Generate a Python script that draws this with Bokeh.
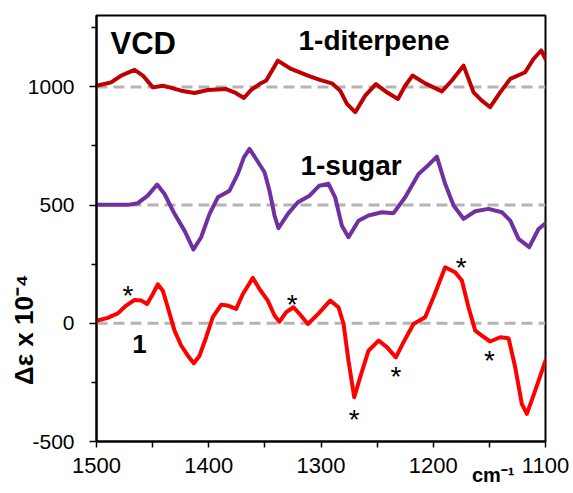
from bokeh.plotting import figure
from bokeh.models import Range1d, FixedTicker, Span, Label
from bokeh.embed import file_html
from bokeh.resources import INLINE
from bokeh.core.properties import value

# ---- data (wavenumber cm-1, plotted Δε x 10^-4 incl. stacking offset) ----
x_1 = [1500, 1490, 1481, 1473.6, 1466.1, 1460.2, 1454.9, 1449.8, 1445.4, 1440.9, 1436.5, 1430.5,
       1424.6, 1418.6, 1413.3, 1408.2, 1402.3, 1396.4, 1389, 1383, 1375.6, 1369.6, 1360.7, 1354.8,
       1347.4, 1341.4, 1337, 1331, 1324.5, 1319.2, 1311.7, 1302.5, 1291.8, 1284.4, 1279.9, 1275.5,
       1270.4, 1265.1, 1257.7, 1248.7, 1241.3, 1233.3, 1226.5, 1217.6, 1207.2, 1199.8, 1189.4,
       1180.5, 1174.5, 1168.6, 1162.6, 1156.7, 1149.3, 1140.4, 1132.9, 1127, 1121.1, 1116.6,
       1109.2, 1100]
y_1 = [11, 23, 42, 75, 99, 96, 82, 124, 165, 138, 68, -31,
       -94, -137, -169, -137, -59, 26, 78, 75, 61, 124, 192, 145,
       96, 33, 7, 47, 68, 40, -3, 40, 96, 68, -3, -158,
       -313, -228, -116, -73, -101, -144, -80, -3, 26, 110, 237,
       216, 181, 68, -31, -52, -77, -59, -63, -186, -341, -383,
       -285, -158]

x_sugar = [1500, 1472, 1463.2, 1454.3, 1446, 1439.4, 1430.5, 1421.6, 1413.6, 1406.8, 1399.3, 1391.9,
           1381.5, 1374.1, 1368.7, 1363.7, 1357.8, 1350.3, 1345.9, 1341.4, 1337.9, 1329.5, 1320.6,
           1310.2, 1301.5, 1293.3, 1287.4, 1281.4, 1275.5, 1266.6, 1257.7, 1245.8, 1235.4, 1225,
           1213.1, 1205.7, 1196.8, 1189.4, 1181.9, 1173, 1162.6, 1150.8, 1138.9, 1131.4, 1124,
           1114.5, 1106.2, 1100]
y_sugar = [501, 501, 508, 540, 587, 547, 463, 392, 312, 364, 463, 533,
           561, 632, 702, 738, 695, 639, 561, 456, 402, 463, 512,
           540, 582, 590, 533, 413, 364, 434, 456, 470, 466, 533,
           632, 663, 705, 590, 498, 442, 474, 484, 470, 434, 357,
           322, 399, 423]

x_diter = [1500, 1487, 1478, 1466.1, 1458.7, 1449.8, 1440.9, 1435, 1424.6, 1412.7, 1400.8, 1384.5,
           1377.1, 1368.7, 1362.2, 1354.8, 1348.8, 1338.5, 1326.6, 1311.7, 1301, 1290.3, 1282.9,
           1276.9, 1269.5, 1260.6, 1251.1, 1241.3, 1231.5, 1225, 1218.5, 1207.2, 1192.3, 1183.4,
           1173, 1164.1, 1156.7, 1149.3, 1140.4, 1131.4, 1118.1, 1110.7, 1103.8, 1100]
y_diter = [1005, 1019, 1048, 1072, 1048, 998, 1005, 998, 984, 974, 987, 991,
           977, 953, 987, 1012, 1027, 1111, 1076, 1048, 1030, 1015, 984,
           928, 893, 963, 1012, 977, 949, 1005, 1048, 1015, 981, 1027,
           1090, 977, 942, 914, 977, 1034, 1062, 1118, 1154, 1118]

baselines = [0, 500, 1000]
star_x = [1472, 1325.7, 1270.4, 1233.3, 1175.1, 1149.9]
star_y = [145, 103, -383, -200, 262, -132]

x_major = [1500, 1400, 1300, 1200, 1100]
x_minor = [1450, 1350, 1250, 1150]
y_major = [-500, 0, 500, 1000]
y_minor = [-250, 250, 750, 1250]
y_major_labels = ["-500", "0", "500", "1000"]

FONT = "Liberation Sans"
NB = "\u00a0"

p = figure(width=573, height=493, output_backend="svg", toolbar_location=None,
           x_range=Range1d(1500, 1100), y_range=Range1d(-500, 1302),
           min_border_left=96, min_border_right=28, min_border_top=15, min_border_bottom=52)
p.xgrid.visible = False
p.ygrid.visible = False
p.background_fill_color = "white"
p.border_fill_color = "white"
p.outline_line_color = "black"
p.outline_line_width = 2

for ax in (p.xaxis[0], p.yaxis[0]):
    ax.axis_line_color = "black"
    ax.axis_line_width = 2
    ax.major_tick_line_color = "black"
    ax.major_tick_line_width = 1.5
    ax.minor_tick_line_color = "black"
    ax.minor_tick_line_width = 1.5
    ax.major_tick_in = 0
    ax.minor_tick_in = 0
    ax.major_label_text_font = FONT
    ax.major_label_text_color = "black"
    ax.axis_label_text_font = FONT
    ax.axis_label_text_font_style = "bold"
    ax.axis_label_text_color = "black"

p.xaxis.ticker = FixedTicker(ticks=x_major, minor_ticks=x_minor)
p.yaxis.ticker = FixedTicker(ticks=y_major, minor_ticks=y_minor)
p.yaxis.major_label_overrides = {v: t for v, t in zip(y_major, y_major_labels)}
p.xaxis.major_tick_out = 6
p.xaxis.minor_tick_out = 6
p.yaxis.major_tick_out = 7
p.yaxis.minor_tick_out = 5
p.xaxis.major_label_text_font_size = "22px"
p.yaxis.major_label_text_font_size = "21px"
p.xaxis.major_label_standoff = 10
p.yaxis.major_label_standoff = 15

# axis titles (padded with no-break spaces to shift them along the axis)
p.yaxis.axis_label = "Δε x 10⁻⁴" + NB * 28
p.yaxis.axis_label_text_font_size = "26px"
p.yaxis.axis_label_standoff = -14
p.xaxis.axis_label = NB * 62 + "cm⁻¹"
p.xaxis.axis_label_text_font_size = "20px"
p.xaxis.axis_label_standoff = -12

for b in baselines:
    p.add_layout(Span(location=b, dimension="width", line_color="#b4b4b4",
                      line_width=3, line_dash="11 6", level="underlay"))

p.line(x_diter, y_diter, line_color="#c00000", line_width=4, line_join="round", line_cap="round")
p.line(x_sugar, y_sugar, line_color="#7030a0", line_width=4, line_join="round", line_cap="round")
p.line(x_1, y_1, line_color="#ff0000", line_width=4, line_join="round", line_cap="round")

p.text(star_x, star_y, text=["*"] * len(star_x), text_font=value(FONT), text_font_size="28px",
       text_align="center", text_baseline="alphabetic", y_offset=6, text_color="black")

def lab(x, y, t, size, align="left"):
    p.add_layout(Label(x=x, y=y, text=t, text_font=FONT, text_font_size=size,
                       text_font_style="bold", text_align=align,
                       text_baseline="alphabetic", text_color="black"))

lab(1487.5, 1183, "VCD", "31px")
lab(1320, 1196, "1-diterpene", "28px")
lab(1318.3, 667, "1-sugar", "28px")
lab(1461.7, -86, "1", "26px", align="center")

open("out.html", "w").write(file_html(p, INLINE))
